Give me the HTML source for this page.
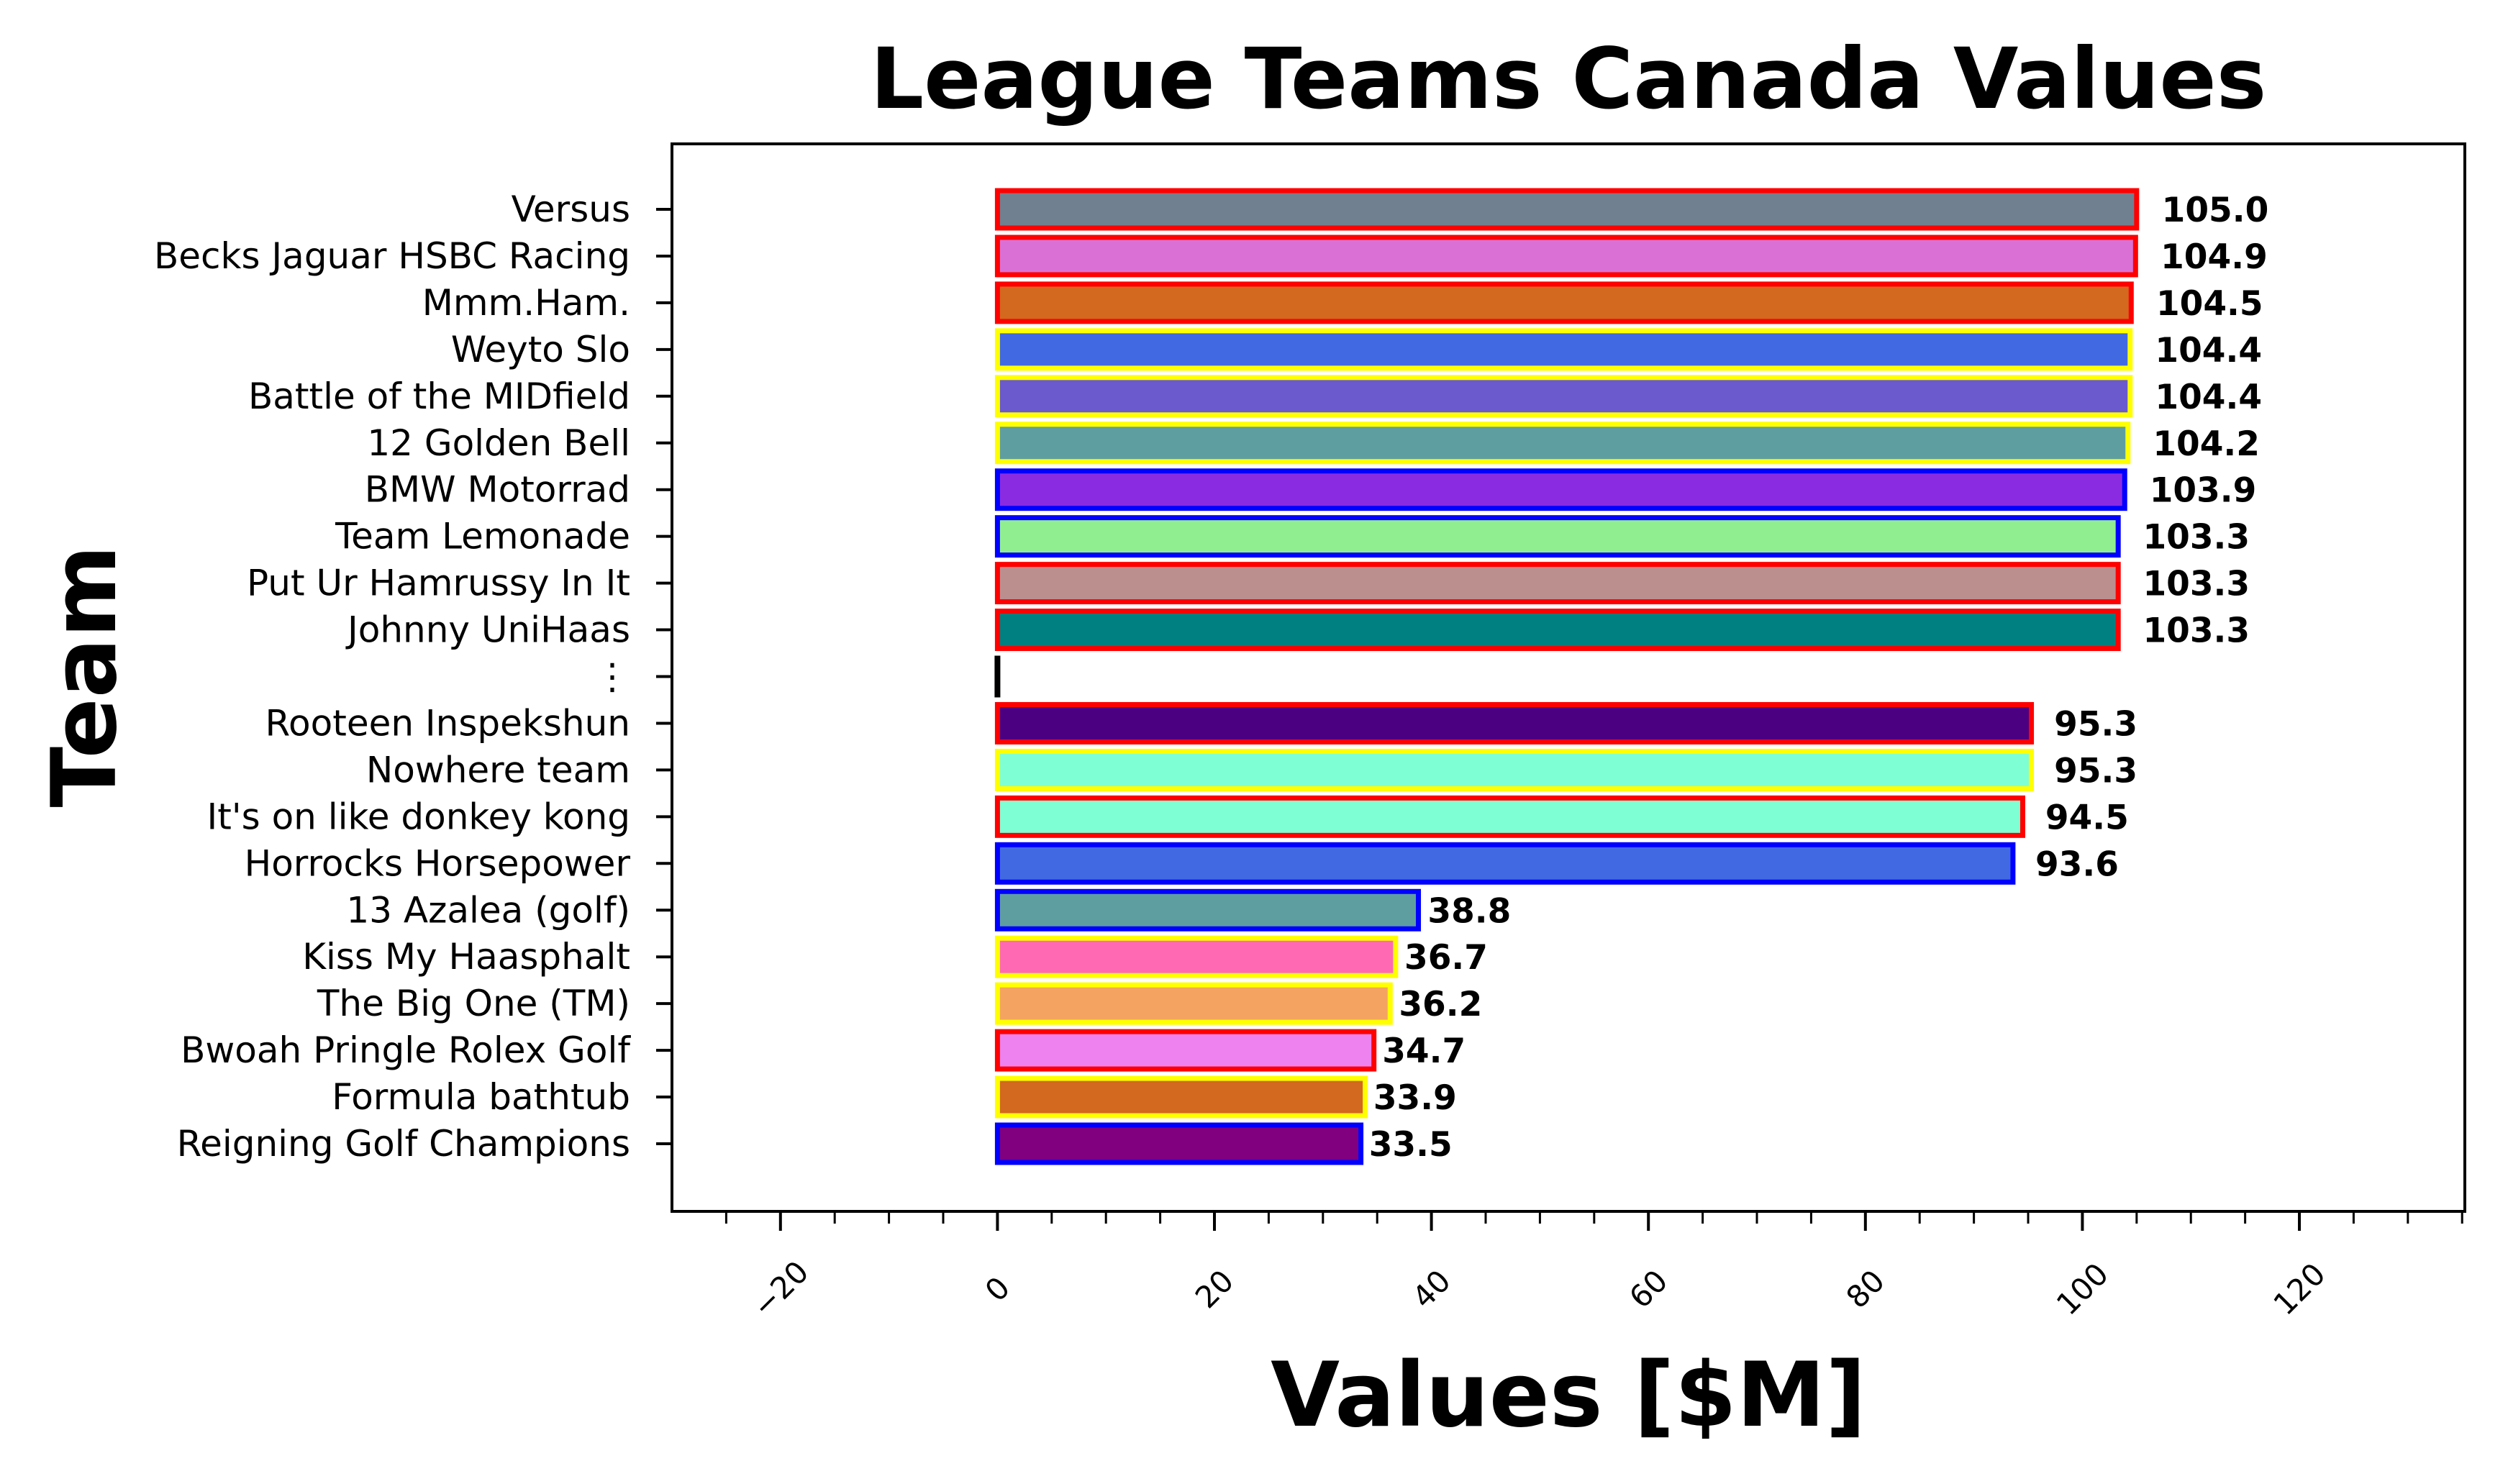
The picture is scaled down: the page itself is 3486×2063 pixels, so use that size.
<!DOCTYPE html>
<html><head><meta charset="utf-8"><style>
html,body{margin:0;padding:0;background:#fff;}
svg{display:block;font-family:"DejaVu Sans","Liberation Sans",sans-serif;}
</style></head><body>
<svg id="chart" width="3486" height="2063" viewBox="0 0 3486 2063" xmlns="http://www.w3.org/2000/svg">
<rect x="0" y="0" width="3486" height="2063" fill="#fff"/>
<text x="2180" y="150" font-size="117" font-weight="bold" text-anchor="middle">League Teams Canada Values</text>
<text x="2180" y="1982" font-size="124" font-weight="bold" text-anchor="middle">Values [$M]</text>
<text transform="translate(160,940) rotate(-90)" font-size="124" font-weight="bold" text-anchor="middle">Team</text>
<g id="bars"></g>
<g id="yticks"></g>
<g id="xticks"></g>
<rect x="934" y="200" width="2492" height="1484" fill="none" stroke="#000" stroke-width="4"/>
</svg>
<script>
const teams = ["Versus","Becks Jaguar HSBC Racing","Mmm.Ham.","Weyto Slo","Battle of the MIDfield","12 Golden Bell","BMW Motorrad","Team Lemonade","Put Ur Hamrussy In It","Johnny UniHaas","\u22ee","Rooteen Inspekshun","Nowhere team","It's on like donkey kong","Horrocks Horsepower","13 Azalea (golf)","Kiss My Haasphalt","The Big One (TM)","Bwoah Pringle Rolex Golf","Formula bathtub","Reigning Golf Champions"];
const values = [105.0,104.9,104.5,104.4,104.4,104.2,103.9,103.3,103.3,103.3,0,95.3,95.3,94.5,93.6,38.8,36.7,36.2,34.7,33.9,33.5];
const valueLabels = ["105.0","104.9","104.5","104.4","104.4","104.2","103.9","103.3","103.3","103.3","","95.3","95.3","94.5","93.6","38.8","36.7","36.2","34.7","33.9","33.5"];
const fills = ["#708090","#DA70D6","#D2691E","#4169E1","#6A5ACD","#5F9EA0","#8A2BE2","#90EE90","#BC8F8F","#008080","#000000","#4B0082","#7FFFD4","#7FFFD4","#4169E1","#5F9EA0","#FF69B4","#F4A460","#EE82EE","#D2691E","#800080"];
const edges = ["#FF0000","#FF0000","#FF0000","#FFFF00","#FFFF00","#FFFF00","#0000FF","#0000FF","#FF0000","#FF0000","#000000","#FF0000","#FFFF00","#FF0000","#0000FF","#0000FF","#FFFF00","#FFFF00","#FF0000","#FFFF00","#0000FF"];
const xTicks = [-20,0,20,40,60,80,100,120];
const xTickLabels = ["\u221220","0","20","40","60","80","100","120"];

const NS="http://www.w3.org/2000/svg";
const X0=934,X1=3426,XMIN=-30.0,XMAX=135.25;
const xs=v=>X0+(v-XMIN)/(XMAX-XMIN)*(X1-X0);
const STEP=64.95, Y_FIRST=291;
const ys=i=>Y_FIRST+i*STEP;
function mk(tag,attrs,parent){const e=document.createElementNS(NS,tag);for(const k in attrs)e.setAttribute(k,attrs[k]);parent.appendChild(e);return e;}
const gb=document.getElementById('bars'),gy=document.getElementById('yticks'),gx=document.getElementById('xticks');
const bh=STEP*0.8;
teams.forEach((t,i)=>{
  const cy=ys(i);
  const x=Math.min(xs(0),xs(values[i])),w=Math.abs(xs(values[i])-xs(0));
  if(w<1){
    const l=mk('line',{x1:x,x2:x,y1:cy-bh/2-3,y2:cy+bh/2+3,stroke:edges[i],'stroke-width':8},gb);
    
    
  } else {
    const r=mk('rect',{x:x,y:cy-bh/2,width:w,height:bh,fill:fills[i],stroke:edges[i],'stroke-width':7},gb);
    
    
  }
  if(valueLabels[i]){
    const tx=mk('text',{x:xs(values[i]*1.022),y:cy+17,'font-size':47,'font-weight':'bold'},gb);
    tx.textContent=valueLabels[i];
    
    
  }
  const tk=mk('line',{x1:912,x2:934,y1:cy,y2:cy,stroke:'#000','stroke-width':4},gy);
  
  
  const lb=mk('text',{x:876,y:cy+17,'font-size':50,'text-anchor':'end'},gy);
  lb.textContent=t;
  
  
});
for(let v=-25;v<=135;v+=5){
  if(xTicks.includes(v))continue;
  const m=mk('line',{x1:xs(v),x2:xs(v),y1:1684,y2:1701,stroke:'#000','stroke-width':3},gx);
  
  
}
xTicks.forEach((v,i)=>{
  const x=xs(v);
  const t=mk('line',{x1:x,x2:x,y1:1684,y2:1711,stroke:'#000','stroke-width':4},gx);
  
  
  const lb=mk('text',{'font-size':42,'text-anchor':'middle','dominant-baseline':'central',transform:`translate(${x},${1792}) rotate(-45)`},gx);
  lb.textContent=xTickLabels[i];
  
  
});
</script>
</body></html>
